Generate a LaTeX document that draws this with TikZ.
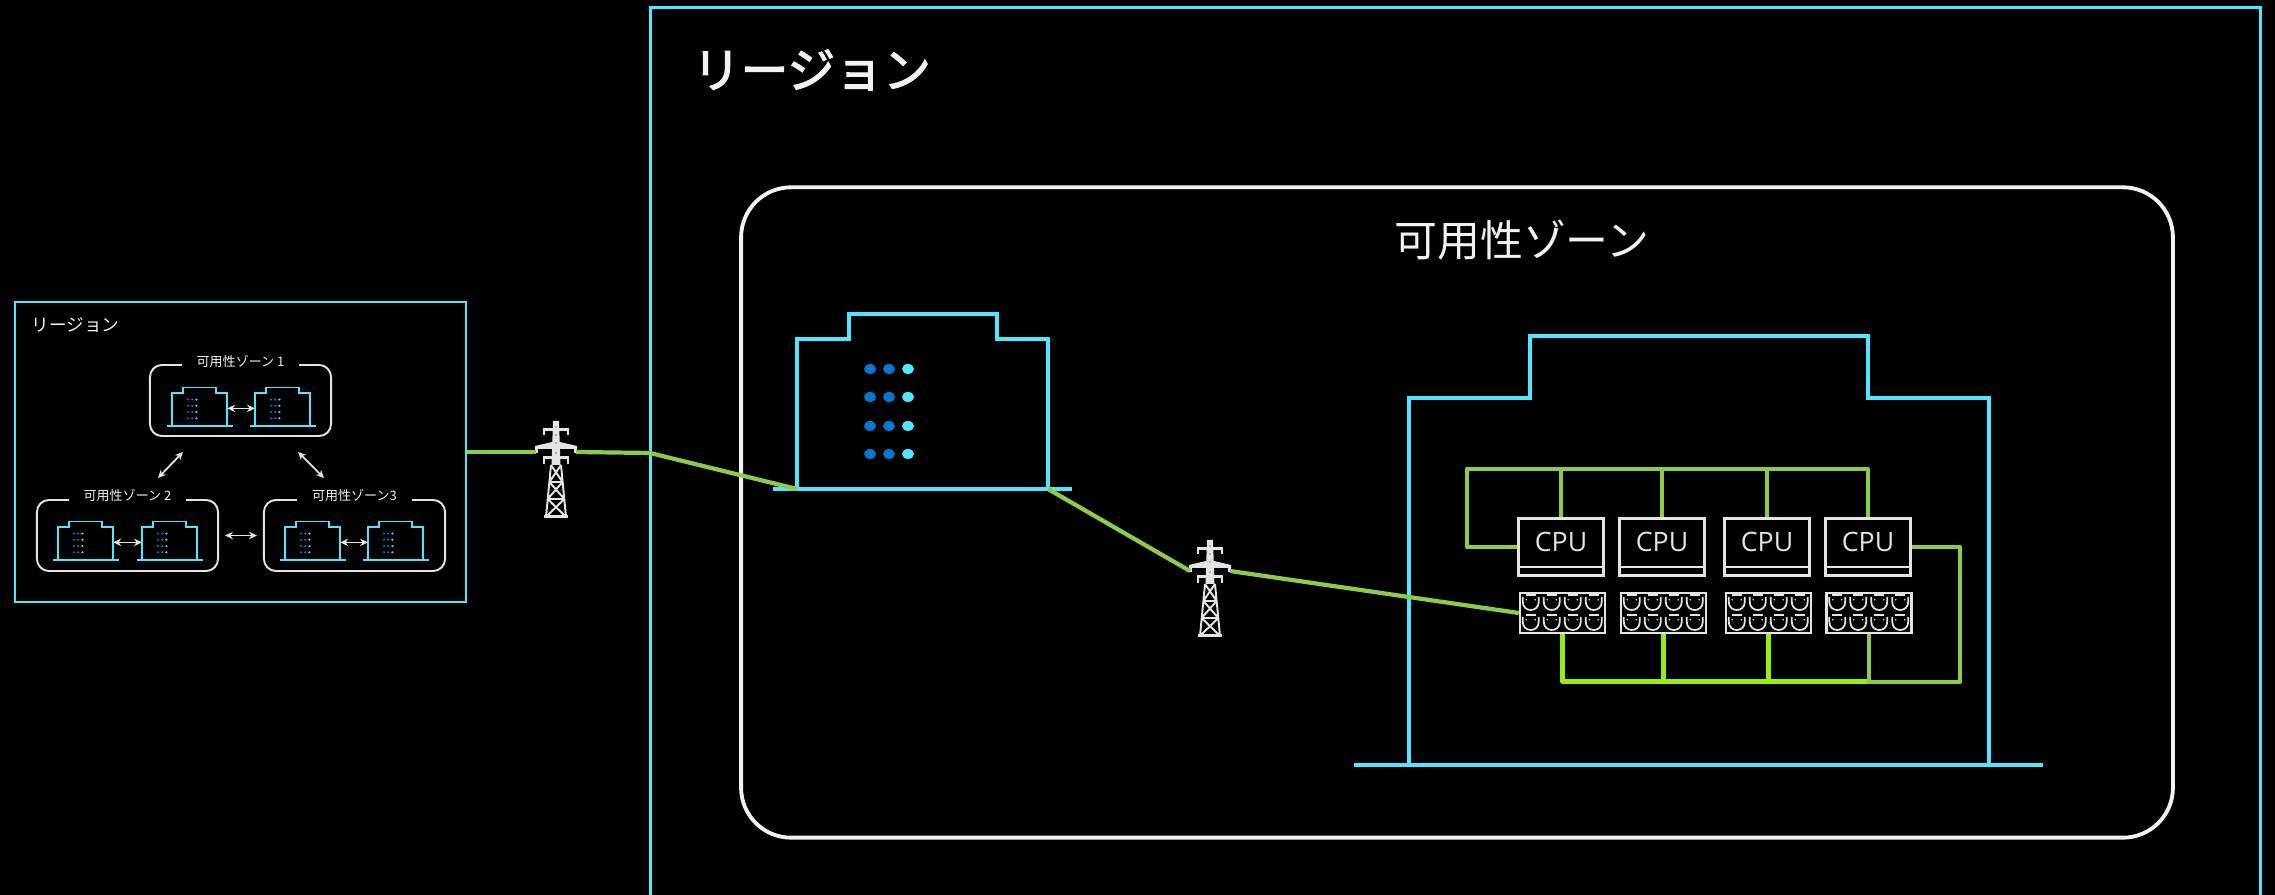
\documentclass[tikz,border=0pt]{standalone}
\usepackage{fontspec}
\newfontfamily\jpfont{Noto Sans CJK JP}
\newfontfamily\jpheavy[FakeBold=2.6]{Noto Sans CJK JP}
\newfontfamily\cpufont{Open Sans}
\usetikzlibrary{arrows.meta,calc}

\definecolor{azcyan}{RGB}{80,230,255}
\definecolor{azblue}{RGB}{0,120,212}
\definecolor{wiregreen}{RGB}{140,204,74}
\definecolor{wirelime}{RGB}{150,238,18}
\definecolor{frame}{RGB}{242,242,242}
\definecolor{icongray}{RGB}{228,228,228}

\tikzset{
  power/.style={wiregreen, line width=1.2pt, line join=round},
  wire/.style={wiregreen, line width=1.15pt, line join=round},
  limewire/.style={wirelime, line width=1.35pt, line join=round},
  bldg/.style={azcyan, line width=1.1pt},
  biarrow/.style={icongray, line width=0.5pt,
    {Stealth[length=0.08cm,width=0.075cm]}-{Stealth[length=0.08cm,width=0.075cm]}},
  zonebox/.style={draw=icongray, line width=0.55pt, rounded corners=0.12cm,
    minimum width=1.81cm, minimum height=0.71cm, inner sep=0pt},
  zonelabel/.style={fill=black, text=frame, inner xsep=0.15cm, inner ysep=0.02cm,
    font=\jpfont\fontsize{3.7}{4}\selectfont},
  cpubox/.style={draw=icongray, line width=0.85pt, fill=black,
    minimum width=0.85cm, minimum height=0.57cm, inner sep=0pt},
  cputext/.style={text=icongray, inner sep=0pt, font=\cpufont\fontsize{7.6}{9}\selectfont},
  membox/.style={draw=icongray, line width=0.7pt, fill=black,
    minimum width=0.85cm, minimum height=0.40cm, inner sep=0pt},
  % datacenter building: origin at the bottom left corner of the walls
  dc/.pic={
    \draw[pic actions] (0,0) -- (0,-150) -- (52,-150) -- (52,-175) -- (200,-175)
      -- (200,-150) -- (251,-150) -- (251,0);
    \draw[pic actions] (-24,0) -- (275,0);
    \foreach \r in {-120,-92,-63,-35} {
      \fill[azblue] (73,\r) ellipse [x radius=6, y radius=5];
      \fill[azblue] (92,\r) ellipse [x radius=6, y radius=5];
      \fill[azcyan] (111,\r) ellipse [x radius=6, y radius=5];
    }
    \coordinate (-bl) at (0,0);
    \coordinate (-br) at (251,0);
    \coordinate (-wl) at (0,-80);
    \coordinate (-wr) at (251,-80);
  },
  % transmission tower: origin at the middle cross arm
  pylon/.pic={
    \begin{scope}[icongray]
      \fill (-3,-26) -- (3,-26) -- (4.5,18) -- (-4.5,18) -- cycle;
      \fill (-13,-19) rectangle (13,-16);
      \fill (-13,-19) rectangle (-11,-12);
      \fill (11,-19) rectangle (13,-12);
      \fill (-21,-1) -- (-4,-5) -- (4,-5) -- (21,-1) -- (21,2) -- (-21,2) -- cycle;
      \fill (-21,-1) rectangle (-18,6);
      \fill (18,-1) rectangle (21,6);
      \fill (-13,9) rectangle (13,12);
      \fill (-13,9) rectangle (-11,17);
      \fill (11,9) rectangle (13,17);
      \draw[line width=0.55pt, line join=round]
        (-5,18) -- (-10,70) (5,18) -- (10,70)
        (-5,18) -- (6.6,35) (5,18) -- (-6.6,35)
        (-6.6,35) -- (8.3,52) (6.6,35) -- (-8.3,52)
        (-8.3,52) -- (10,70) (8.3,52) -- (-10,70)
        (-6.6,35) -- (6.6,35) (-8.3,52) -- (8.3,52);
      \fill (-12,68) rectangle (12,71);
      \fill[black] (0,-20) circle (0.6) (0,-12) circle (0.6) (0,-4) circle (0.6) (0,6) circle (0.6);
    \end{scope}
    \coordinate (-l) at (-20,5);
    \coordinate (-r) at (20,5);
  }
}

\begin{document}
\begin{tikzpicture}[x=0.01cm, y=-0.01cm]
  \useasboundingbox (0,0) rectangle (2275,895);
  \fill[black] (0,0) rectangle (2275,895);

  % ---------- small overview: region with three availability zones ----------
  \node[draw=azcyan, line width=0.5pt, minimum width=4.51cm, minimum height=3.0cm,
        inner sep=0pt] (rg) at (240.5,452) {};
  \node[anchor=west, inner sep=0pt, text=frame, font=\jpfont\fontsize{5}{6}\selectfont]
    (rgt) at (31,325) {リージョン};

  \node[zonebox] (zb1) at (240.5,400.5) {};
  \node[zonebox] (zb2) at (127.5,535.5) {};
  \node[zonebox] (zb3) at (354.5,535.5) {};
  \node[zonelabel] (zl1) at ($(zb1.north)+(0,-3)$) {可用性ゾーン 1};
  \node[zonelabel] (zl2) at ($(zb2.north)+(0,-4)$) {可用性ゾーン 2};
  \node[zonelabel] (zl3) at ($(zb3.north)+(0,-4)$) {可用性ゾーン3};

  \pic[draw=azcyan, line width=0.55pt, scale=0.22] (z1a) at (172,426) {dc};
  \pic[draw=azcyan, line width=0.55pt, scale=0.22] (z1b) at (255,426) {dc};
  \pic[draw=azcyan, line width=0.55pt, scale=0.22] (z2a) at (58,560) {dc};
  \pic[draw=azcyan, line width=0.55pt, scale=0.22] (z2b) at (142,560) {dc};
  \pic[draw=azcyan, line width=0.55pt, scale=0.22] (z3a) at (285,560) {dc};
  \pic[draw=azcyan, line width=0.55pt, scale=0.22] (z3b) at (368,560) {dc};

  \draw[biarrow] (z1a-wr) -- (z1b-wl);
  \draw[biarrow] (z2a-wr) -- (z2b-wl);
  \draw[biarrow] (z3a-wr) -- (z3b-wl);
  \draw[biarrow] ($(zb1.south west)+(34,15)$) -- ($(zb2.north west)+(122,-21)$);
  \draw[biarrow] ($(zb1.south east)+(-34,15)$) -- ($(zb3.north west)+(61,-21)$);
  \draw[biarrow, shorten <=0.06cm, shorten >=0.06cm] (zb2.east) -- (zb3.west);

  % ---------- detailed region ----------
  \draw[azcyan, line width=0.85pt] (650,900) -- (650,8) -- (2260,8) -- (2260,900);
  \node[anchor=west, inner sep=0pt, text=frame,
        font=\jpheavy\fontsize{13.6}{16}\selectfont] (rgnt) at (692,70) {リージョン};
  \coordinate (rgin) at (650,453);

  % availability zone
  \node[draw=frame, line width=1.1pt, rounded corners=0.5cm, minimum width=14.31cm,
        minimum height=6.5cm, inner sep=0pt] (az) at (1457,512.5) {};
  \node[text=frame, inner sep=0pt, font=\jpfont\fontsize{12.2}{14}\selectfont]
    (azt) at (1522,240) {可用性ゾーン};

  % CPUs and accelerator boards
  \node[cpubox] (c1) at (1561,547) {};
  \node[cpubox] (c2) at (1662,547) {};
  \node[cpubox] (c3) at (1767,547) {};
  \node[cpubox] (c4) at (1868,547) {};
  \foreach \c in {c1,c2,c3,c4} {
    \draw[icongray, line width=0.7pt] ($(\c.south west)+(0,-10)$) -- ($(\c.south east)+(0,-10)$);
    \node[cputext] (\c t) at ($(\c.center)+(0,-5)$) {CPU};
  }
  \node[membox] (m1) at (1562.5,613) {};
  \node[membox] (m2) at (1663.5,613) {};
  \node[membox] (m3) at (1768.5,613) {};
  \node[membox] (m4) at (1869,613) {};
  \foreach \m in {m1,m2,m3,m4} {
    \foreach \k in {0,1,2,3} {
      \foreach \r in {0,1} {
        \begin{scope}[shift={($(\m.north west)+(\k*21+1.5,\r*20+1)$)}, icongray, line width=0.5pt]
          \draw (2.5,4) -- (2.5,9) .. controls (2.5,20) and (18.5,20) .. (18.5,9) -- (18.5,4);
          \draw (5.5,2) -- (15.5,2);
          \fill (6,7) circle (0.9) (15,7) circle (0.9);
        \end{scope}
      }
    }
  }

  % interconnect wiring
  \draw[wire] (c1.west) -- ++(-50,0) |- ($(c1.north)+(0,-48)$) -- (c1.north);
  \draw[wire] ($(c1.north)+(0,-48)$) -| (c4.north);
  \draw[wire] (c2.north) -- ++(0,-48);
  \draw[wire] (c3.north) -- ++(0,-48);
  \draw[limewire] (m1.south) -- ++(0,47) -- ($(m4.south)+(0,47)$);
  \draw[limewire] (m2.south) -- ++(0,47);
  \draw[limewire] (m3.south) -- ++(0,47);
  \draw[wire] (c4.east) -- ++(48,0) |- ($(m4.south)+(0,48)$) -- (m4.south);

  % buildings
  \pic[draw=azcyan, line width=1.1pt] (b1) at (797,489) {dc};
  \draw[bldg] (1409,765) -- (1409,398) -- (1530,398) -- (1530,336) -- (1868,336)
    -- (1868,398) -- (1989,398) -- (1989,765);
  \draw[bldg] (1354,765) -- (2043,765);

  % transmission towers
  \pic (t1) at (556,447) {pylon};
  \pic (t2) at (1210,566) {pylon};

  % power lines
  \draw[power] (rg.east) -- (t1-l);
  \draw[power] (t1-r) -- (rgin) -- (b1-bl);
  \draw[power] (b1-br) -- (t2-l);
  \draw[power] (t2-r) -- (m1.west);
\end{tikzpicture}
\end{document}
